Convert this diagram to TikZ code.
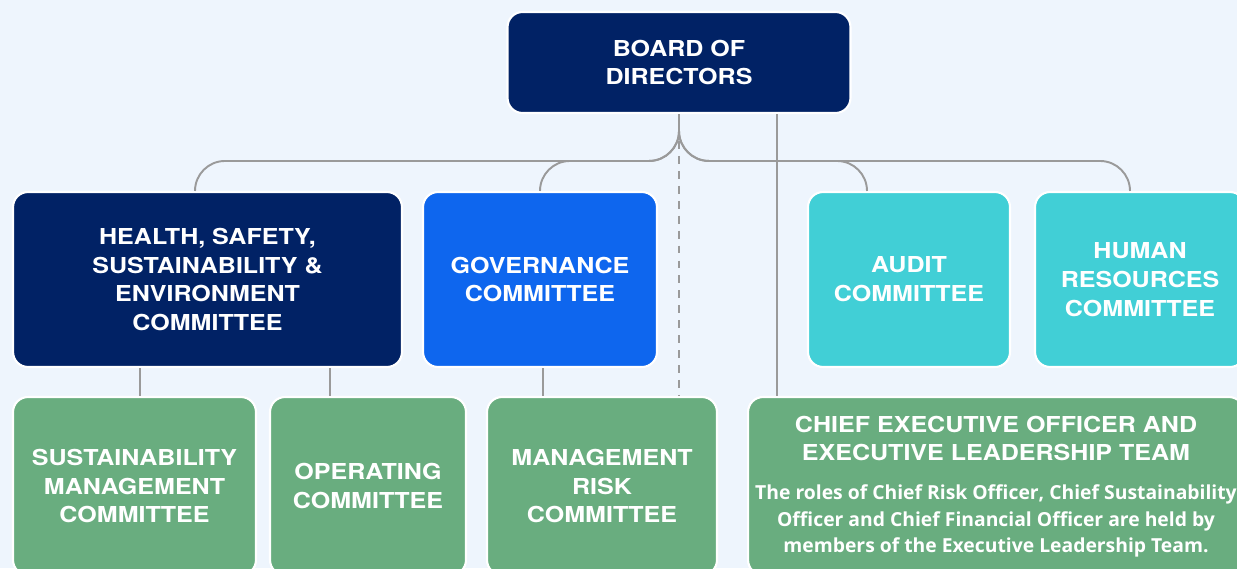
\documentclass[tikz,border=0pt]{standalone}
\usepackage{fontspec}
\setmainfont{Open Sans}
\newfontfamily\headfont[FakeStretch=1.14]{TeX Gyre Heros}
\definecolor{bgblue}{HTML}{EEF5FD}
\definecolor{navy}{HTML}{012265}
\definecolor{brightblue}{HTML}{0E66EE}
\definecolor{teal}{HTML}{41CFD6}
\definecolor{sage}{HTML}{69AD7F}
\definecolor{linegray}{HTML}{9A9A9A}
\tikzset{
  box/.style={draw=white, line width=1.2pt, rounded corners=0.3cm, text=white,
    align=center, inner sep=0pt,
    font=\headfont\bfseries\fontsize{12.5}{16.4}\selectfont},
  navybox/.style={box, fill=navy},
  bluebox/.style={box, fill=brightblue},
  tealbox/.style={box, fill=teal},
  sagebox/.style={box, fill=sage},
  bodytext/.style={text=white, align=center, inner sep=0pt,
    font=\bfseries\fontsize{11}{15.3}\selectfont},
  conn/.style={draw=linegray, line width=1.1pt, rounded corners=0.6cm},
}
\begin{document}
\begin{tikzpicture}[x=0.02cm,y=-0.02cm]
\useasboundingbox (0,0) rectangle (1237,568);
\fill[bgblue] (0,0) rectangle (1237,568);
\clip (0,0) rectangle (1237,568);
% top level
\node[navybox, minimum width=6.86cm, minimum height=2.02cm] (board) at (679,62.5) {BOARD OF\\DIRECTORS};
% board committees
\node[navybox, minimum width=7.78cm, minimum height=3.5cm] (hsse) at (207.5,279.5)
  {HEALTH, SAFETY,\\SUSTAINABILITY \&\\ENVIRONMENT\\COMMITTEE};
\node[bluebox, minimum width=4.68cm, minimum height=3.5cm] (gov) at (540,279.5) {GOVERNANCE\\COMMITTEE};
\node[tealbox, minimum width=4.04cm, minimum height=3.5cm] (audit) at (909,279.5) {AUDIT\\COMMITTEE};
\node[tealbox, minimum width=4.2cm, minimum height=3.5cm] (hr) at (1140,279.5) {HUMAN\\RESOURCES\\COMMITTEE};
% management level
\node[sagebox, minimum width=4.86cm, minimum height=3.56cm] (smc) at (134.5,486) {SUSTAINABILITY\\MANAGEMENT\\COMMITTEE};
\node[sagebox, minimum width=3.92cm, minimum height=3.56cm] (opc) at (368,486) {OPERATING\\COMMITTEE};
\node[sagebox, minimum width=4.6cm, minimum height=3.56cm] (mrc) at (602,486) {MANAGEMENT\\RISK\\COMMITTEE};
\node[sagebox, minimum width=9.92cm, minimum height=3.56cm] (ceo) at (996,486) {};
\node[box, draw=none] (ceohead) at (996,438.5) {CHIEF EXECUTIVE OFFICER AND\\EXECUTIVE LEADERSHIP TEAM};
\node[bodytext] (ceotext) at (996,521) {The roles of Chief Risk Officer, Chief Sustainability\\Officer and Chief Financial Officer are held by\\members of the Executive Leadership Team.};
% connectors
\draw[conn] (board.south) |- ([xshift=-0.25cm,yshift=0.6cm]hsse.north) -- ([xshift=-0.25cm]hsse.north);
\draw[conn] (board.south) |- ([yshift=0.6cm]gov.north) -- (gov.north);
\draw[conn] (board.south) |- ([xshift=-0.84cm,yshift=0.6cm]audit.north) -- ([xshift=-0.84cm]audit.north);
\draw[conn] (board.south) |- ([xshift=-0.2cm,yshift=0.6cm]hr.north) -- ([xshift=-0.2cm]hr.north);
\draw[conn, dashed, dash pattern=on 4.5pt off 4pt] ([yshift=-0.54cm]board.south) -- (board.south |- mrc.north);
\draw[conn] ([xshift=-4.38cm]ceo.north) -- ([xshift=-4.38cm]ceo.north |- board.south);
\draw[conn] ([xshift=0.11cm]smc.north) -- ([xshift=0.11cm]smc.north |- hsse.south);
\draw[conn] ([xshift=-0.76cm]opc.north) -- ([xshift=-0.76cm]opc.north |- hsse.south);
\draw[conn] ([xshift=-1.18cm]mrc.north) -- ([xshift=-1.18cm]mrc.north |- gov.south);
\end{tikzpicture}
\end{document}
